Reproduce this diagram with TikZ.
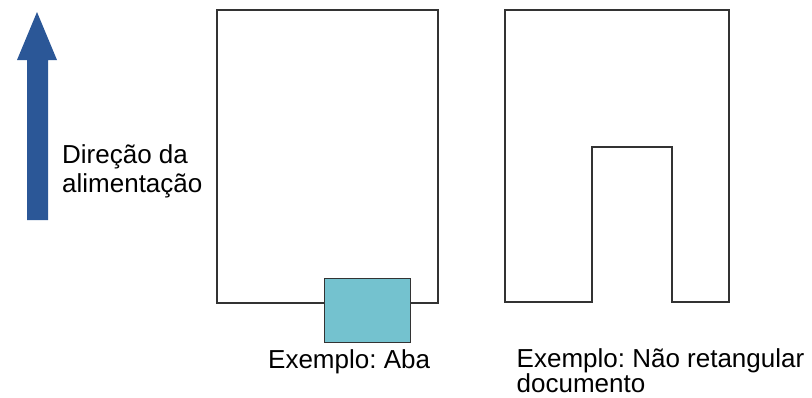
\documentclass[tikz,border=0pt]{standalone}
\usepackage{fontspec}
\setmainfont{Liberation Sans}
\frenchspacing
\definecolor{arrowblue}{HTML}{2B5797}
\definecolor{tabfill}{HTML}{74C2CF}
\definecolor{edge}{HTML}{333333}
\tikzset{
  outline/.style={draw=edge, line width=2pt, line join=miter},
  label/.style={inner sep=0pt, font=\fontsize{26}{29}\selectfont, align=left},
}
\begin{document}
\begin{tikzpicture}[x=1pt,y=-1pt]
\useasboundingbox (0,0) rectangle (812,397);
% feed direction arrow
\fill[arrowblue] (37,12) -- (57,60) -- (48,60) -- (48,220) -- (27,220) -- (27,60) -- (17,60) -- cycle;
\node[label, anchor=base west] (dir) at (62,192.3) {Direção da\\alimentação};
% left document with tab
\draw[outline] (217,10) rectangle (438,303);
\draw[draw=edge, line width=1.2pt, fill=tabfill] (324.5,278.3) rectangle (410.7,342.7);
\node[label, anchor=base west] (aba) at (268,368.3) {Exemplo: Aba};
% right non-rectangular document
\draw[outline] (505,10) -- (729,10) -- (729,302.3) -- (671.7,302.3) -- (671.7,147.3) -- (592.3,147.3) -- (592.3,302.3) -- (505,302.3) -- cycle;
\node[label, anchor=base west, font=\fontsize{26}{24}\selectfont] (nrt) at (516.5,392.3) {Exemplo: Não retangular\\documento};
\end{tikzpicture}
\end{document}
